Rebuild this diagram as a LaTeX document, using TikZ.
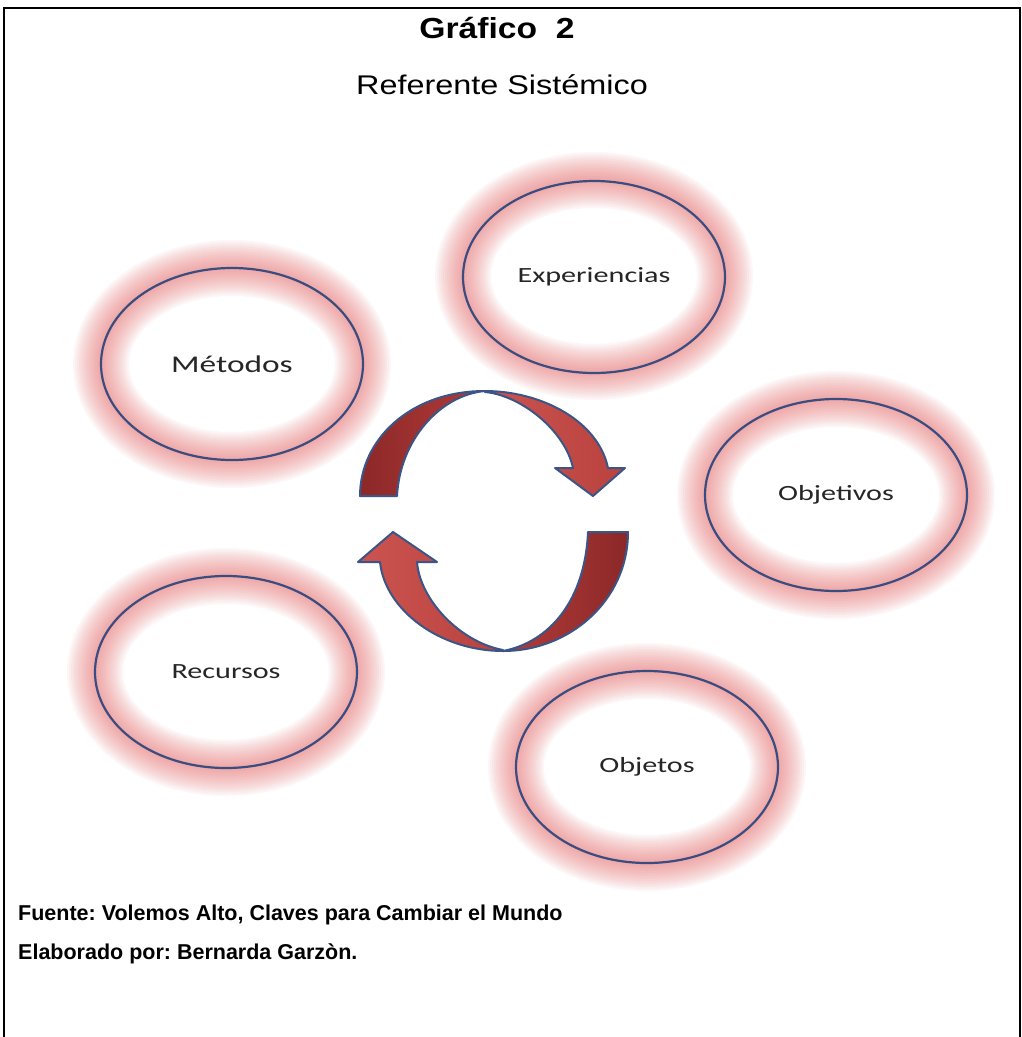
\documentclass[tikz,border=0pt]{standalone}
\usepackage{fontspec}
\setmainfont{Liberation Sans}
\newfontfamily\calib{Carlito}
\usetikzlibrary{shapes.geometric}
\definecolor{ringc}{RGB}{58,76,128}
\definecolor{glowc}{RGB}{232,108,108}
\definecolor{arrline}{RGB}{60,85,135}
\definecolor{redA}{RGB}{140,40,40}
\definecolor{redB}{RGB}{178,60,58}
\definecolor{redC}{RGB}{204,84,80}
\definecolor{redD}{RGB}{186,66,62}
\tikzset{
  ring/.style={ellipse, draw=ringc, line width=2.2pt, minimum width=262pt,
    minimum height=192pt, inner sep=0pt, text=black!85},
  frameline/.style={line width=2pt, black},
  arrpart/.style={draw=arrline, line width=2pt, line join=round},
}
\frenchspacing
\begin{document}
\begin{tikzpicture}[x=1pt,y=-1pt]
\useasboundingbox (0,0) rectangle (1022,1037);
\fill[white] (0,0) rectangle (1022,1037);
% frame
\draw[frameline] (4,1037) -- (4,8) -- (1020,8) -- (1020,1037);
% glow
\foreach \cx/\cy in {232/364, 594/276, 836/495, 226/672, 647/767} {
  \foreach \w in {4,8,...,56} {
    \draw[glowc, draw opacity=0.055, line width=\w*1pt] (\cx,\cy) ellipse [x radius=131, y radius=96];
  }
}
% rings
\node[ring] (met) at (232,364) {\scalebox{1.39}[1]{\calib\fontsize{24}{28}\selectfont Métodos}};
\node[ring] (exp) at (594,277) {\scalebox{1.39}[1]{\calib\fontsize{21.7}{26}\selectfont Experiencias}};
\node[ring] (obj) at (836,495) {\scalebox{1.39}[1]{\calib\fontsize{21.7}{26}\selectfont Objetivos}};
\node[ring] (rec) at (226,672) {\scalebox{1.39}[1]{\calib\fontsize{21.7}{26}\selectfont Recursos}};
\node[ring] (obs) at (647,767) {\scalebox{1.39}[1]{\calib\fontsize{21.7}{26}\selectfont Objetos}};
% upper curved arrow
\path[arrpart, left color=redA, right color=redB]
  (360,496) .. controls (360,440) and (410,391) .. (485,391)
  .. controls (440,395) and (400,440) .. (397,496) -- cycle;
\path[arrpart, left color=redC, right color=redD]
  (485,391) .. controls (540,391) and (598,420) .. (608,468)
  -- (625,468) -- (593,496) -- (555,468) -- (573,468)
  .. controls (565,430) and (520,395) .. (485,392) -- cycle;
% lower curved arrow
\path[arrpart, left color=redB, right color=redA]
  (628,532) .. controls (628,600) and (570,651) .. (503,651)
  .. controls (550,642) and (585,600) .. (588,532) -- cycle;
\path[arrpart, left color=redC, right color=redD]
  (503,651) .. controls (440,651) and (385,610) .. (380,562)
  -- (358,562) -- (393,532) -- (437,562) -- (417,562)
  .. controls (420,600) and (460,642) .. (503,650) -- cycle;
% texts
\node[font=\bfseries\fontsize{29}{34}\selectfont] (title) at (497,28) {\scalebox{1.16}[1]{Gráfico~~2}};
\node[font=\fontsize{27}{32}\selectfont] (sub) at (502,85) {\scalebox{1.2}[1]{Referente Sistémico}};
\node[anchor=base west, inner sep=0pt, font=\bfseries\fontsize{21.5}{26}\selectfont] (fuente) at (18,920) {Fuente: Volemos Alto, Claves para Cambiar el Mundo};
\node[anchor=base west, inner sep=0pt, font=\bfseries\fontsize{21.5}{26}\selectfont] (elab) at (18,959) {Elaborado por: Bernarda Garzòn.};
\end{tikzpicture}
\end{document}
